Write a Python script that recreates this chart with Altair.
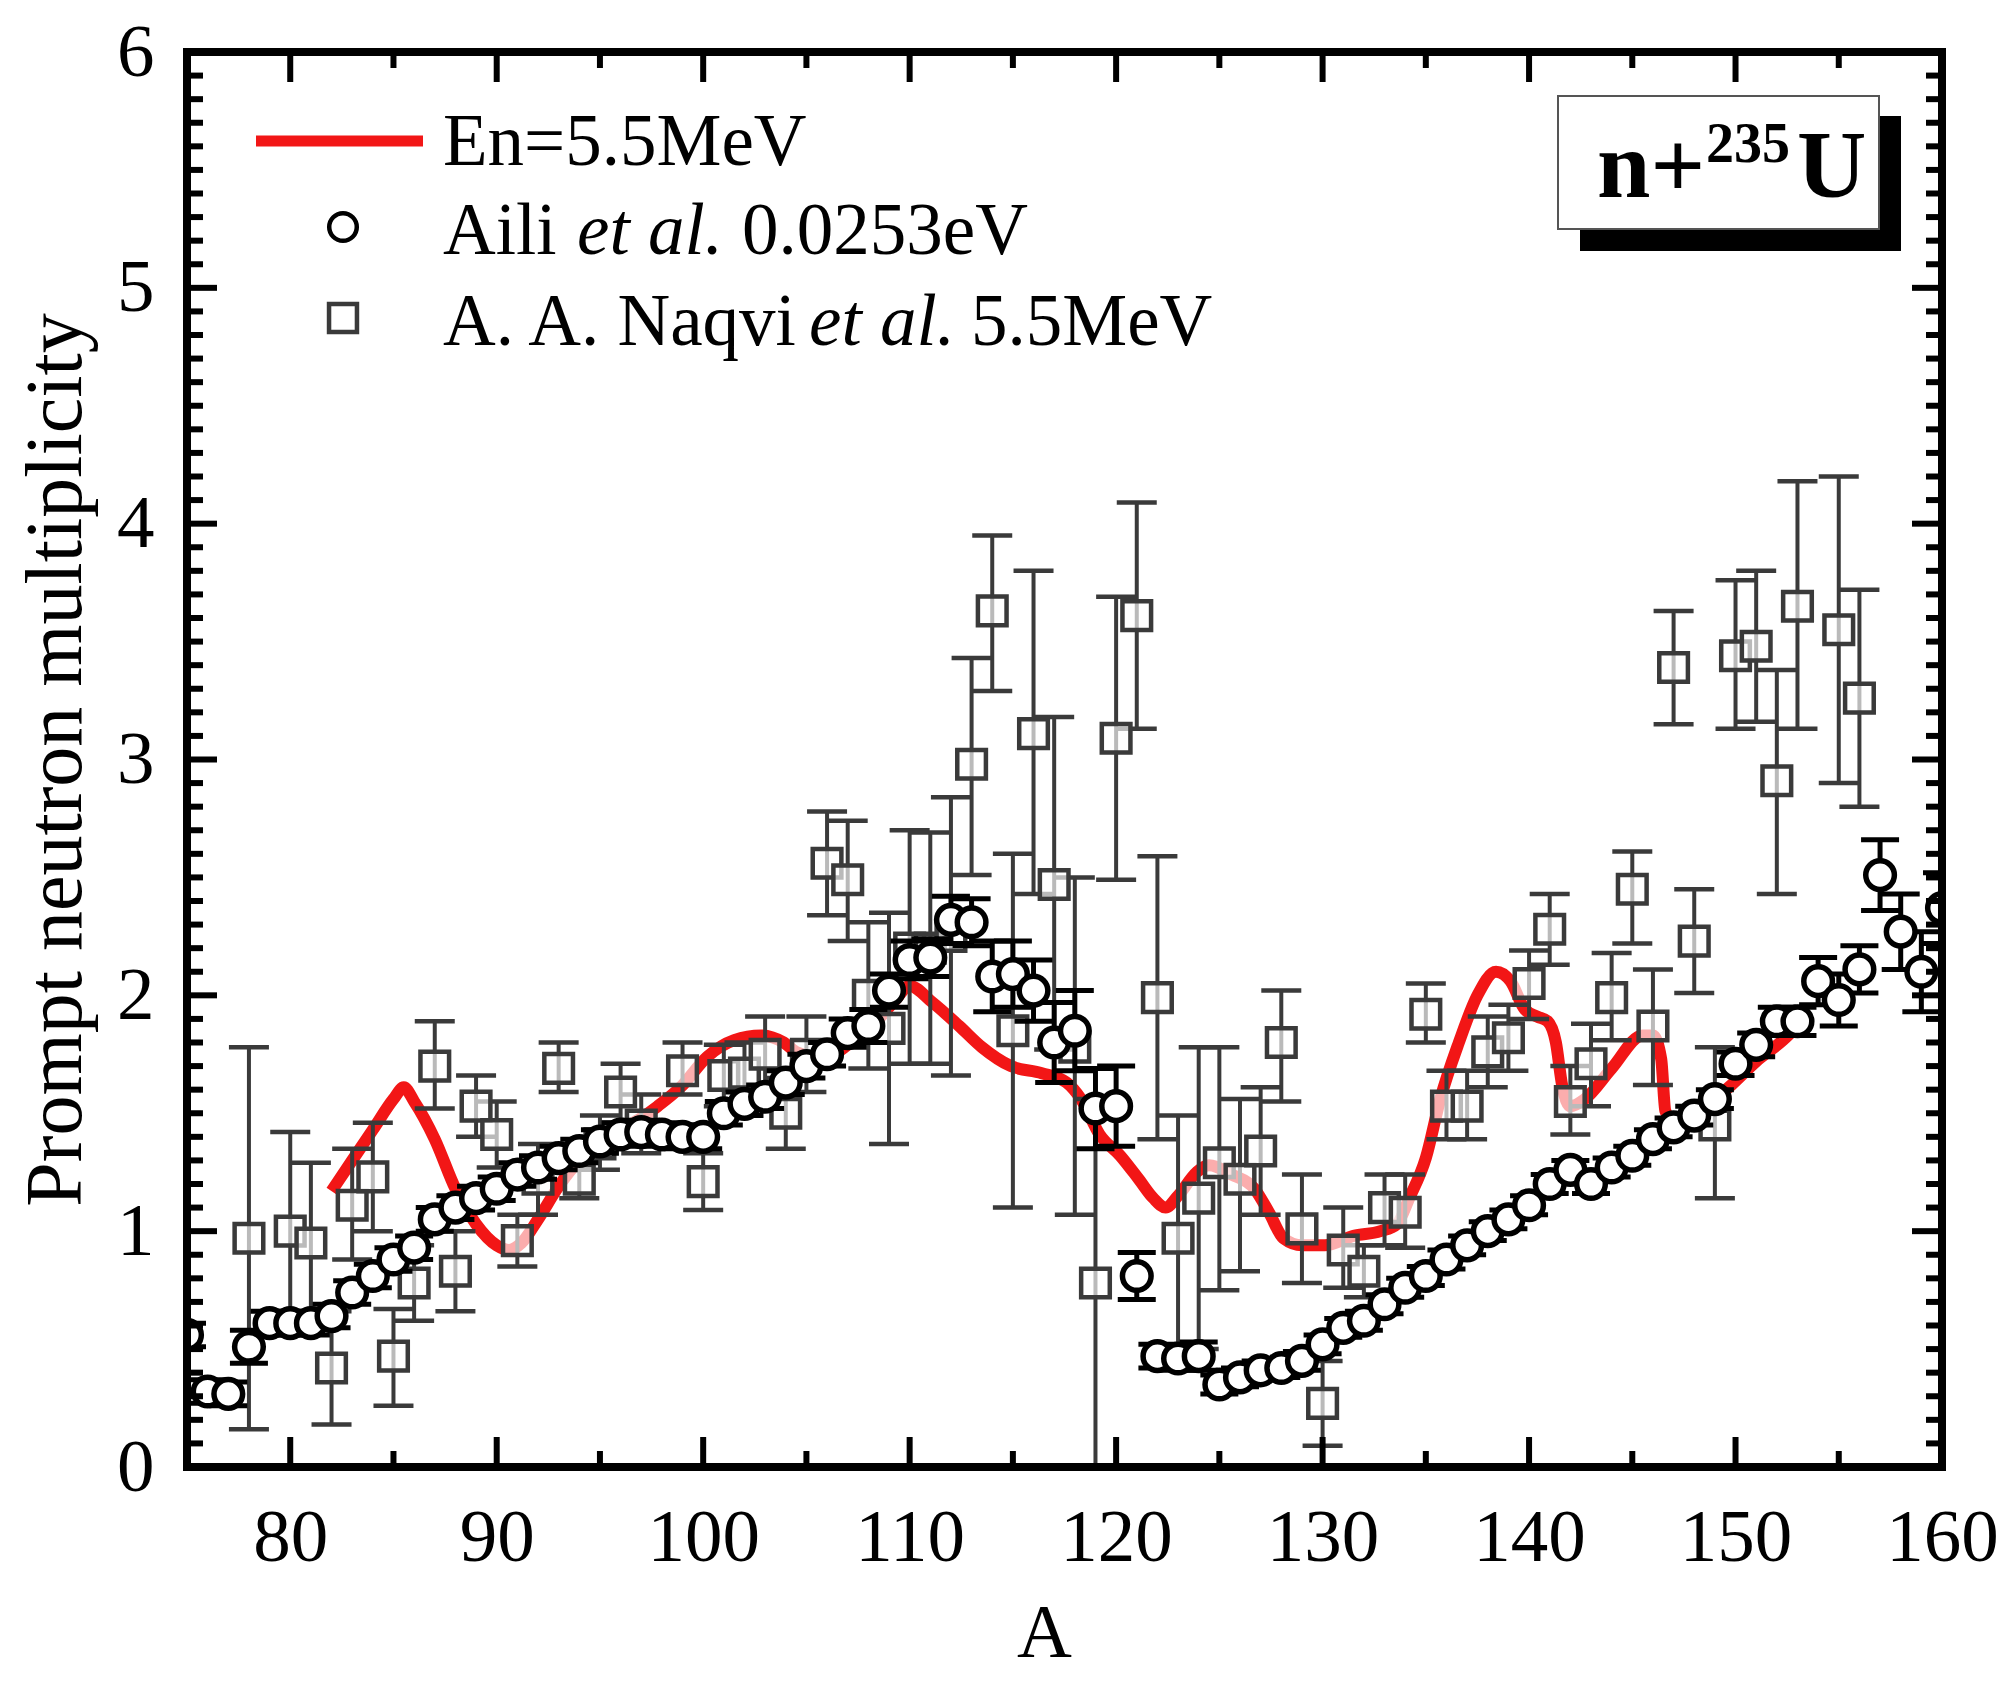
import altair as alt
import pandas as pd

# ---------------- data ----------------
# Aili et al. 0.0253 eV (circles), A = 75..160
aili_A = list(range(75, 161))
aili_v = [0.56, 0.32, 0.31, 0.51, 0.61, 0.61, 0.61, 0.64, 0.74, 0.81,
          0.88, 0.93, 1.05, 1.10, 1.14, 1.18, 1.24, 1.27, 1.31, 1.34,
          1.38, 1.41, 1.42, 1.41, 1.40, 1.40, 1.50, 1.54, 1.57, 1.63,
          1.70, 1.75, 1.84, 1.87, 2.02, 2.15, 2.16, 2.32, 2.31, 2.08,
          2.09, 2.02, 1.80, 1.85, 1.52, 1.53, 0.81, 0.47, 0.46, 0.47,
          0.35, 0.38, 0.41, 0.42, 0.45, 0.52, 0.59, 0.62, 0.69, 0.76,
          0.81, 0.88, 0.94, 1.00, 1.05, 1.11, 1.20, 1.26, 1.20, 1.27,
          1.32, 1.39, 1.44, 1.49, 1.56, 1.71, 1.79, 1.89, 1.89, 2.06,
          1.98, 2.11, 2.51, 2.27, 2.10, 2.37]
aili_err = [0.05, 0.05, 0.05, 0.07, 0.05, 0.05, 0.05, 0.05, 0.05, 0.05,
            0.05, 0.05, 0.05, 0.05, 0.05, 0.05, 0.05, 0.05, 0.05, 0.05,
            0.05, 0.05, 0.05, 0.05, 0.05, 0.05, 0.05, 0.05, 0.05, 0.05,
            0.05, 0.05, 0.06, 0.07, 0.07, 0.08, 0.08, 0.10, 0.10, 0.15,
            0.14, 0.13, 0.17, 0.17, 0.17, 0.17, 0.10, 0.05, 0.05, 0.06,
            0.04, 0.04, 0.04, 0.04, 0.04, 0.04, 0.04, 0.04, 0.04, 0.04,
            0.04, 0.04, 0.04, 0.04, 0.04, 0.04, 0.04, 0.04, 0.04, 0.04,
            0.04, 0.04, 0.04, 0.04, 0.04, 0.05, 0.05, 0.06, 0.06, 0.10,
            0.11, 0.10, 0.15, 0.16, 0.17, 0.15]

# A. A. Naqvi et al. 5.5 MeV (squares)
naqvi_A = [78, 80, 81, 82, 83, 84, 85, 86, 87, 88, 89, 90, 91, 92, 93, 94, 95, 96, 97,
           99, 100, 101, 102, 103, 104, 105, 106, 107, 108, 109, 110, 111, 112, 113, 114,
           115, 116, 117, 118, 119, 120, 121, 122, 123, 124, 125, 126, 127, 128, 129, 130,
           131, 132, 133, 134, 135, 136, 137, 138, 139, 140, 141, 142, 143, 144, 145, 146,
           147, 148, 149, 150, 151, 152, 153, 155, 156]
naqvi_v = [0.97, 1.00, 0.95, 0.42, 1.11, 1.23, 0.47, 0.78, 1.70, 0.83, 1.53, 1.41, 0.96, 1.22, 1.69, 1.22, 1.37, 1.59, 1.45,
           1.68, 1.21, 1.66, 1.67, 1.75, 1.50, 1.75, 2.56, 2.49, 2.00, 1.86, 2.20, 2.20, 2.25, 2.98, 3.63,
           1.85, 3.11, 2.47, 1.78, 0.78, 3.09, 3.61, 1.99, 0.97, 1.14, 1.29, 1.22, 1.34, 1.80, 1.01, 0.27,
           0.92, 0.83, 1.10, 1.08, 1.92, 1.53, 1.53, 1.76, 1.82, 2.05, 2.28, 1.55, 1.71, 1.99, 2.45, 1.87,
           3.39, 2.23, 1.45, 3.44, 3.48, 2.91, 3.65, 3.55, 3.26]
naqvi_lo = [0.16, 0.58, 0.61, 0.18, 0.88, 1.00, 0.26, 0.62, 1.52, 0.66, 1.40, 1.27, 0.85, 1.07, 1.59, 1.14, 1.26, 1.46, 1.33,
            1.58, 1.09, 1.53, 1.54, 1.60, 1.35, 1.59, 2.34, 2.23, 1.69, 1.37, 1.71, 1.71, 1.66, 2.51, 3.29,
            1.10, 2.43, 1.77, 1.07, 0.00, 2.49, 3.13, 1.39, 0.45, 0.50, 0.75, 0.83, 1.07, 1.55, 0.78, 0.09,
            0.76, 0.72, 0.94, 0.93, 1.80, 1.39, 1.39, 1.61, 1.68, 1.90, 2.13, 1.41, 1.53, 1.81, 2.22, 1.62,
            3.15, 2.01, 1.14, 3.13, 3.16, 2.43, 3.13, 2.90, 2.80]
naqvi_hi = [1.78, 1.42, 1.29, 0.66, 1.35, 1.46, 0.67, 0.94, 1.89, 1.00, 1.66, 1.55, 1.07, 1.37, 1.80, 1.30, 1.49, 1.71, 1.58,
            1.80, 1.33, 1.79, 1.80, 1.91, 1.65, 1.91, 2.78, 2.74, 2.31, 2.35, 2.70, 2.69, 2.84, 3.43, 3.95,
            2.60, 3.80, 3.18, 2.50, 1.56, 3.69, 4.09, 2.59, 1.49, 1.78, 1.78, 1.56, 1.61, 2.02, 1.24, 0.45,
            1.10, 0.94, 1.24, 1.24, 2.05, 1.68, 1.68, 1.91, 1.96, 2.19, 2.43, 1.70, 1.88, 2.18, 2.61, 2.11,
            3.63, 2.45, 1.78, 3.76, 3.80, 3.38, 4.18, 4.20, 3.72]

# calculation En = 5.5 MeV (red curve)
calc_A = [82.0, 83.0, 84.0, 85.0, 85.5, 86.0, 87.0, 88.0, 89.0, 90.0, 90.6, 91.2, 92.0, 93.0,
          94.0, 95.0, 96.0, 97.0, 97.8, 98.9, 100.2, 101.5, 102.8, 103.9, 104.5, 105.5, 106.5,
          107.5, 108.5, 109.3, 110.0, 111.1, 112.4, 113.5, 114.9, 116.4, 117.6, 118.3, 119.2,
          120.2, 121.1, 121.8, 122.4, 123.0, 123.9, 124.5, 125.6, 126.7, 127.4, 128.1, 129.0,
          130.1, 131.5, 132.8, 133.6, 134.2, 135.0, 135.7, 136.6, 137.5, 138.4, 139.1, 139.8,
          140.4, 140.9, 141.3, 141.6, 142.0, 142.7, 144.0, 145.5, 146.0, 146.4, 146.6, 147.0,
          148.0, 149.0, 149.8, 151.0, 152.3, 153.0]
calc_v = [1.17, 1.30, 1.43, 1.56, 1.61, 1.55, 1.39, 1.18, 1.03, 0.94, 0.92, 0.95, 1.05, 1.19,
          1.30, 1.37, 1.43, 1.48, 1.53, 1.61, 1.74, 1.81, 1.83, 1.80, 1.76, 1.74, 1.76,
          1.83, 1.90, 1.98, 2.04, 1.97, 1.87, 1.78, 1.70, 1.67, 1.63, 1.56, 1.41,
          1.32, 1.22, 1.14, 1.10, 1.15, 1.25, 1.28, 1.24, 1.18, 1.08, 0.97, 0.94,
          0.94, 0.98, 1.00, 1.03, 1.14, 1.31, 1.56, 1.80, 2.00, 2.10, 2.06, 1.94,
          1.91, 1.89, 1.80, 1.62, 1.53, 1.56, 1.69, 1.83, 1.83, 1.73, 1.51, 1.46,
          1.50, 1.56, 1.62, 1.72, 1.81, 1.87]

x_labels = [80, 90, 100, 110, 120, 130, 140, 150, 160]
x_minor = [85, 95, 105, 115, 125, 135, 145, 155]
y_labels = [0, 1, 2, 3, 4, 5, 6]
y_major_inner = [1, 2, 3, 4, 5]
y_minor = [round(i / 10, 1) for i in range(1, 60) if i % 10 != 0]

legend_labels = ["En=5.5MeV", "Aili ", "et al.", "0.0253eV", "A. A. Naqvi ", "et al.", "5.5MeV"]

# ---------------- layout ----------------
W, H = 1755, 1415
FONT = "Liberation Serif"
BAR = "#3a3a3a"
RED = "#f21616"

xs = alt.Scale(domain=[75, 160], nice=False, zero=False)
ys = alt.Scale(domain=[0, 6], nice=False, zero=False)

x_axis = alt.Axis(values=x_labels, format="d", labelFont=FONT, labelFontSize=75, labelColor="black",
                  labelPadding=34, labelFlush=False, labelOverlap=False, ticks=False, domain=False,
                  grid=False, title="A", titleFont=FONT, titleFontSize=76, titleFontWeight="normal",
                  titleColor="black", titleX=857, titleY=189, titleBaseline="alphabetic",
                  titleAlign="center")
y_axis = alt.Axis(values=y_labels, format="d", labelFont=FONT, labelFontSize=75, labelColor="black",
                  labelPadding=33, labelFlush=False, labelOverlap=False, ticks=False, domain=False,
                  grid=False, title="Prompt neutron multiplicity", titleFont=FONT, titleFontSize=80,
                  titleFontWeight="normal", titleColor="black", titleX=-107, titleY=707.5,
                  titleAngle=270, titleBaseline="alphabetic", titleAlign="center")

aili = pd.DataFrame({"A": aili_A, "v": aili_v,
                     "lo": [v - e for v, e in zip(aili_v, aili_err)],
                     "hi": [v + e for v, e in zip(aili_v, aili_err)]})
naqvi = pd.DataFrame({"A": naqvi_A, "v": naqvi_v, "lo": naqvi_lo, "hi": naqvi_hi})
calc = pd.DataFrame({"A": calc_A, "v": calc_v})
one = pd.DataFrame({"k": [0]})


def XA(field="A"):
    return alt.X(f"{field}:Q", scale=xs, axis=x_axis, title="A")


def YA(field="v"):
    return alt.Y(f"{field}:Q", scale=ys, axis=y_axis, title="Prompt neutron multiplicity")


red = alt.Chart(calc).mark_line(color=RED, strokeWidth=12, interpolate="monotone").encode(
    x=XA(), y=YA())

sq_bar = alt.Chart(naqvi).mark_rule(color=BAR, strokeWidth=4).encode(x=XA(), y=YA("lo"), y2="hi:Q")
sq_cap_lo = alt.Chart(naqvi).mark_tick(orient="horizontal", size=40, thickness=4.5, color=BAR, opacity=1).encode(
    x=XA(), y=YA("lo"))
sq_cap_hi = alt.Chart(naqvi).mark_tick(orient="horizontal", size=40, thickness=4.5, color=BAR, opacity=1).encode(
    x=XA(), y=YA("hi"))
squares = alt.Chart(naqvi).mark_point(shape="square", size=820, filled=True, fill="white", fillOpacity=0.65,
                                      stroke=BAR, strokeWidth=4.5, opacity=1).encode(x=XA(), y=YA())

ci_bar = alt.Chart(aili).mark_rule(color="black", strokeWidth=5, clip=True).encode(
    x=XA(), y=YA("lo"), y2="hi:Q")
ci_cap_lo = alt.Chart(aili).mark_tick(orient="horizontal", size=38, thickness=5, color="black", opacity=1,
                                      clip=True).encode(x=XA(), y=YA("lo"))
ci_cap_hi = alt.Chart(aili).mark_tick(orient="horizontal", size=38, thickness=5, color="black", opacity=1,
                                      clip=True).encode(x=XA(), y=YA("hi"))
circles = alt.Chart(aili).mark_point(shape="circle", size=820, filled=True, fill="white", fillOpacity=1,
                                     stroke="black", strokeWidth=5.5, opacity=1, clip=True).encode(
    x=XA(), y=YA())

# inward ticks on all four sides
MAJ, MIN, TW = 30, 16, 6
dfx_maj = pd.DataFrame({"A": x_labels})
dfx_min = pd.DataFrame({"A": x_minor})
dfy_maj = pd.DataFrame({"v": y_major_inner})
dfy_min = pd.DataFrame({"v": y_minor})
ticks = [
    alt.Chart(dfx_maj).mark_rule(color="black", strokeWidth=TW).encode(x=XA(), y=alt.value(H), y2=alt.value(H - MAJ)),
    alt.Chart(dfx_min).mark_rule(color="black", strokeWidth=TW).encode(x=XA(), y=alt.value(H), y2=alt.value(H - MIN)),
    alt.Chart(dfx_maj).mark_rule(color="black", strokeWidth=TW).encode(x=XA(), y=alt.value(0), y2=alt.value(MAJ)),
    alt.Chart(dfx_min).mark_rule(color="black", strokeWidth=TW).encode(x=XA(), y=alt.value(0), y2=alt.value(MIN)),
    alt.Chart(dfy_maj).mark_rule(color="black", strokeWidth=TW).encode(y=YA(), x=alt.value(0), x2=alt.value(MAJ)),
    alt.Chart(dfy_min).mark_rule(color="black", strokeWidth=TW).encode(y=YA(), x=alt.value(0), x2=alt.value(MIN)),
    alt.Chart(dfy_maj).mark_rule(color="black", strokeWidth=TW).encode(y=YA(), x=alt.value(W), x2=alt.value(W - MAJ)),
    alt.Chart(dfy_min).mark_rule(color="black", strokeWidth=TW).encode(y=YA(), x=alt.value(W), x2=alt.value(W - MIN)),
]

frame = alt.Chart(one).mark_rect(filled=False, fillOpacity=0, stroke="black", strokeWidth=8).encode(
    x=alt.value(0), x2=alt.value(W), y=alt.value(0), y2=alt.value(H))

# legend (custom, top-left)
LFS = 73
leg = [
    alt.Chart(one).mark_rule(color=RED, strokeWidth=11).encode(x=alt.value(69), x2=alt.value(236), y=alt.value(89)),
    alt.Chart(one).mark_point(shape="circle", size=760, filled=True, fill="white", stroke="black",
                              strokeWidth=4.5, opacity=1).encode(x=alt.value(156), y=alt.value(175)),
    alt.Chart(one).mark_point(shape="square", size=780, filled=True, fill="white", stroke=BAR,
                              strokeWidth=4.5, opacity=1).encode(x=alt.value(156), y=alt.value(266)),
]
text_specs = [
    (legend_labels[0], 256, 113, "normal"),
    (legend_labels[1], 256, 202, "normal"),
    (legend_labels[2], 390, 202, "italic"),
    (legend_labels[3], 555, 202, "normal"),
    (legend_labels[4], 256, 293, "normal"),
    (legend_labels[5], 622, 293, "italic"),
    (legend_labels[6], 784, 293, "normal"),
]
for t, px, py, st in text_specs:
    leg.append(alt.Chart(one).mark_text(text=t, font=FONT, fontSize=LFS, fontStyle=st, align="left",
                                        baseline="alphabetic", color="black").encode(
        x=alt.value(px), y=alt.value(py)))

# annotation box "n+235U" with drop shadow
box = [
    alt.Chart(one).mark_rect(color="black").encode(x=alt.value(1393), x2=alt.value(1714),
                                                   y=alt.value(64), y2=alt.value(199)),
    alt.Chart(one).mark_rect(fill="white", stroke="#555555", strokeWidth=2).encode(
        x=alt.value(1371), x2=alt.value(1692), y=alt.value(44), y2=alt.value(177)),
    alt.Chart(one).mark_text(text="n+", font=FONT, fontSize=96, fontWeight="bold", align="left",
                             baseline="alphabetic", color="black").encode(x=alt.value(1410), y=alt.value(145)),
    alt.Chart(one).mark_text(text="235", font=FONT, fontSize=56, fontWeight="bold", align="left",
                             baseline="alphabetic", color="black").encode(x=alt.value(1519), y=alt.value(110)),
    alt.Chart(one).mark_text(text="U", font=FONT, fontSize=96, fontWeight="bold", align="left",
                             baseline="alphabetic", color="black").encode(x=alt.value(1610), y=alt.value(145)),
]

chart = alt.layer(
    red, sq_bar, sq_cap_lo, sq_cap_hi, squares, ci_bar, ci_cap_lo, ci_cap_hi, circles,
    *ticks, frame, *leg, *box
).properties(
    width=W, height=H,
    autosize=alt.AutoSizeParams(type="none"),
    padding={"left": 179, "top": 44, "right": 58, "bottom": 206},
    background="white",
).configure_view(strokeWidth=0)

chart.save("out.html", embed_options={"renderer": "svg", "actions": False})
